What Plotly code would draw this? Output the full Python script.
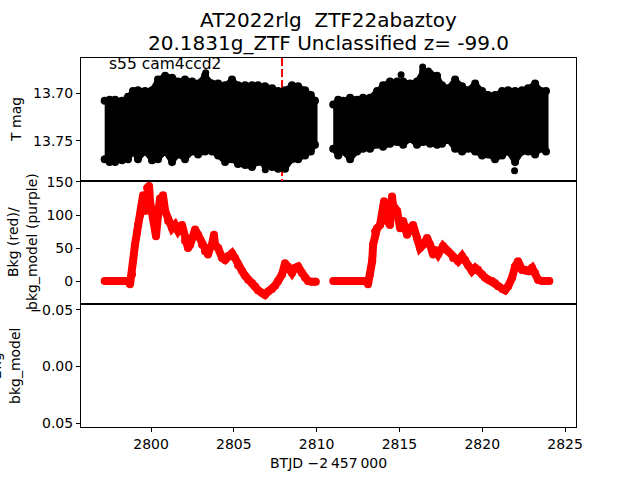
import plotly.graph_objects as go

# ---------------- data ----------------
# TESS light curve envelope (T mag), segment 1 and segment 2
lc_t1 = [2797.20, 2797.50, 2797.83, 2798.25, 2798.61, 2798.91, 2799.21, 2799.64, 2800.06, 2800.42,
         2800.85, 2801.27, 2801.63, 2802.05, 2802.48, 2802.84, 2803.26, 2803.68, 2804.05, 2804.47,
         2804.89, 2805.25, 2805.68, 2806.10, 2806.46, 2806.88, 2807.31, 2807.67, 2808.09, 2808.51,
         2808.88, 2809.30, 2809.65, 2809.90]
lc_top1 = [13.708, 13.707, 13.707, 13.708, 13.704, 13.698, 13.697, 13.698, 13.697, 13.686,
           13.682, 13.684, 13.688, 13.686, 13.688, 13.690, 13.682, 13.690, 13.690, 13.692,
           13.686, 13.692, 13.692, 13.692, 13.692, 13.693, 13.695, 13.698, 13.697, 13.692,
           13.693, 13.697, 13.702, 13.708]
lc_bot1 = [13.769, 13.772, 13.772, 13.770, 13.769, 13.761, 13.769, 13.761, 13.770, 13.769,
           13.761, 13.772, 13.764, 13.769, 13.761, 13.764, 13.761, 13.761, 13.765, 13.772,
           13.769, 13.774, 13.775, 13.777, 13.772, 13.775, 13.777, 13.779, 13.779, 13.769,
           13.769, 13.765, 13.761, 13.754]
lc_t2 = [2811.00, 2811.30, 2811.59, 2812.02, 2812.44, 2812.80, 2813.22, 2813.65, 2814.01, 2814.43,
         2814.86, 2815.22, 2815.64, 2816.06, 2816.43, 2816.85, 2817.27, 2817.57, 2817.93, 2818.36,
         2818.78, 2819.14, 2819.57, 2819.99, 2820.35, 2820.77, 2821.20, 2821.56, 2821.98, 2822.40,
         2822.77, 2823.19, 2823.55, 2823.85]
lc_top2 = [13.712, 13.707, 13.708, 13.705, 13.707, 13.705, 13.705, 13.698, 13.692, 13.688,
           13.688, 13.688, 13.690, 13.688, 13.677, 13.680, 13.682, 13.692, 13.695, 13.686,
           13.693, 13.697, 13.690, 13.698, 13.702, 13.702, 13.698, 13.697, 13.698, 13.697,
           13.695, 13.690, 13.698, 13.698]
lc_bot2 = [13.758, 13.765, 13.761, 13.769, 13.761, 13.758, 13.758, 13.754, 13.756, 13.753,
           13.751, 13.754, 13.748, 13.754, 13.751, 13.753, 13.754, 13.753, 13.749, 13.758,
           13.761, 13.758, 13.761, 13.765, 13.764, 13.769, 13.765, 13.761, 13.772, 13.761,
           13.761, 13.764, 13.758, 13.761]
# isolated outlying points
out_t = [2816.40, 2816.75, 2821.95, 2806.90, 2803.30, 2815.10]
out_m = [13.673, 13.677, 13.781, 13.780, 13.679, 13.681]

# reference epoch marker
epoch_t = 2807.91

# background flux (red), two segments
bkg_t1 = [2797.20, 2797.52, 2798.13, 2798.61, 2798.73, 2798.85, 2798.91, 2799.03, 2799.15, 2799.21,
          2799.34, 2799.46, 2799.52, 2799.64, 2799.76, 2799.82, 2799.88, 2799.94, 2800.06, 2800.24,
          2800.30, 2800.42, 2800.54, 2800.66, 2800.72, 2800.85, 2801.03, 2801.27, 2801.45, 2801.63,
          2801.87, 2802.05, 2802.23, 2802.36, 2802.48, 2802.66, 2802.84, 2803.08, 2803.26, 2803.44,
          2803.56, 2803.68, 2803.80, 2803.86, 2804.05, 2804.29, 2804.47, 2804.65, 2804.89, 2805.07,
          2805.25, 2805.50, 2805.68, 2805.86, 2806.10, 2806.28, 2806.46, 2806.70, 2806.88, 2807.07,
          2807.31, 2807.49, 2807.67, 2807.91, 2808.09, 2808.27, 2808.51, 2808.70, 2808.88, 2809.12,
          2809.30, 2809.48, 2809.72, 2809.95]
bkg_v1 = [0, 0, 0, 0, -5, 10, 30, 55, 73, 85,
          100, 110, 130, 106, 141, 126, 144, 120, 106, 80,
          68, 100, 125, 115, 130, 106, 91, 80, 85, 76,
          85, 61, 50, 55, 65, 78, 70, 55, 45, 40,
          50, 55, 70, 55, 50, 35, 32, 38, 42, 35,
          24, 15, 8, 2, -3, -8, -14, -18, -21, -16,
          -12, -7, 0, 10, 27, 22, 12, 20, 22, 12,
          5, 0, -1, -1]
bkg_t2 = [2811.00, 2811.41, 2812.02, 2812.62, 2813.04, 2813.10, 2813.22, 2813.35, 2813.41, 2813.53,
          2813.65, 2813.83, 2814.01, 2814.07, 2814.25, 2814.43, 2814.55, 2814.61, 2814.86, 2815.04,
          2815.22, 2815.46, 2815.64, 2815.82, 2816.06, 2816.24, 2816.43, 2816.67, 2816.85, 2817.03,
          2817.15, 2817.33, 2817.63, 2817.93, 2818.24, 2818.54, 2818.78, 2818.96, 2819.14, 2819.38,
          2819.57, 2819.75, 2819.99, 2820.17, 2820.35, 2820.59, 2820.77, 2820.95, 2821.20, 2821.38,
          2821.56, 2821.80, 2821.98, 2822.16, 2822.40, 2822.58, 2822.77, 2823.01, 2823.19, 2823.37,
          2823.61, 2823.90, 2824.05]
bkg_v2 = [0, 0, 0, 0, 0, -5, 10, 30, 55, 75,
          80, 85, 106, 121, 91, 85, 128, 115, 106, 80,
          91, 70, 80, 85, 65, 50, 55, 65, 55, 40,
          47, 40, 53, 45, 35, 30, 38, 32, 24, 15,
          20, 17, 10, 5, 2, 0, -3, -8, -12, -14,
          -8, 5, 22, 30, 17, 17, 15, 20, 12, 2,
          0, 0, 0]

# axis ticks
x_ticks = [2800, 2805, 2810, 2815, 2820, 2825]
top_ticks = [13.70, 13.75]
top_ticklabels = ["13.70", "13.75"]
mid_ticks = [0, 50, 100, 150]
bot_ticks = [-0.05, 0.0, 0.05]
bot_ticklabels = ["\u22120.05", "0.00", "0.05"]

title1 = "AT2022rlg  ZTF22abaztoy"
title2 = "20.1831g_ZTF Unclassified z= -99.0"
sector_label = "s55 cam4ccd2"
xlabel = "BTJD \u22122\u2009457\u2009000"

# ---------------- figure ----------------
W, H = 640, 480
FONT = "DejaVu Sans"
x_dom = [81 / W, 576 / W]
top_dom = [1 - 181 / H, 1 - 58 / H]
mid_dom = [1 - 304 / H, 1 - 181 / H]
bot_dom = [1 - 427 / H, 1 - 304 / H]
x_range = [2795.77, 2825.66]

fig = go.Figure()

# empty bottom panel (bkg_model) - invisible placeholder so the subplot is drawn
fig.add_trace(go.Scatter(x=[x_range[0]], y=[0], mode="markers", opacity=0,
                         xaxis="x", yaxis="y", hoverinfo="skip"))

# epoch line (behind the light curve)
fig.add_trace(go.Scatter(x=[epoch_t, epoch_t], y=[13.6635, 13.7917], mode="lines",
                         line=dict(color="red", width=2, dash="8px,3px"),
                         xaxis="x3", yaxis="y3", hoverinfo="skip"))

# light curve band
for t, top, bot in [(lc_t1, lc_top1, lc_bot1), (lc_t2, lc_top2, lc_bot2)]:
    fig.add_trace(go.Scatter(x=t + t[::-1], y=top + bot[::-1], mode="lines",
                             fill="toself", fillcolor="black",
                             line=dict(color="black", width=5),
                             xaxis="x3", yaxis="y3"))
    fig.add_trace(go.Scatter(x=t + t, y=top + bot, mode="markers",
                             marker=dict(color="black", size=8),
                             xaxis="x3", yaxis="y3"))
fig.add_trace(go.Scatter(x=out_t, y=out_m, mode="markers",
                         marker=dict(color="black", size=7), xaxis="x3", yaxis="y3"))

# background
for t, v in [(bkg_t1, bkg_v1), (bkg_t2, bkg_v2)]:
    fig.add_trace(go.Scatter(x=t, y=v, mode="lines+markers",
                             line=dict(color="red", width=8),
                             marker=dict(color="red", size=8),
                             xaxis="x2", yaxis="y2"))

def axis(**kw):
    d = dict(showline=True, linecolor="black", linewidth=1, mirror=True,
             ticks="outside", ticklen=4, tickwidth=1, tickcolor="black",
             showgrid=False, zeroline=False, automargin=False,
             tickfont=dict(family=FONT, size=14, color="black"))
    d.update(kw)
    return d

fig.update_layout(
    template="none",
    width=W, height=H, margin=dict(l=0, r=0, t=0, b=0, pad=0, autoexpand=False),
    paper_bgcolor="white", plot_bgcolor="white", showlegend=False,
    xaxis=axis(domain=x_dom, anchor="y", range=x_range, tickvals=x_ticks),
    yaxis=axis(domain=bot_dom, anchor="x", range=[0.0535, -0.0553],
               tickvals=bot_ticks, ticktext=bot_ticklabels),
    xaxis2=axis(domain=x_dom, anchor="y2", range=x_range, ticks="", showticklabels=False),
    yaxis2=axis(domain=mid_dom, anchor="x2", range=[-34.8, 151.5], tickvals=mid_ticks),
    xaxis3=axis(domain=x_dom, anchor="y3", range=x_range, ticks="", showticklabels=False),
    yaxis3=axis(domain=top_dom, anchor="x3", range=[13.7917, 13.6635],
                tickvals=top_ticks, ticktext=top_ticklabels),
)

def ann(text, x, y, size=14, angle=0, xanchor="center"):
    fig.add_annotation(text=text, x=x / W, y=1 - y / H, xref="paper", yref="paper",
                       showarrow=False, textangle=angle, xanchor=xanchor, yanchor="middle",
                       font=dict(family=FONT, size=size, color="black"))

ann(title1, 328.5, 20, size=20)
ann(title2, 328.5, 43, size=20)
ann(sector_label, 165, 64, size=15.5)
ann("T mag", 16, 120, angle=-90)
ann("Bkg (red)/", 13, 242, angle=-90)
ann("bkg_model (purple)", 32, 242, angle=-90)
ann("Bkg", -4, 366, angle=-90)
ann("bkg_model", 15, 366, angle=-90)
ann(xlabel, 328.5, 463)

fig.write_html("out.html")
